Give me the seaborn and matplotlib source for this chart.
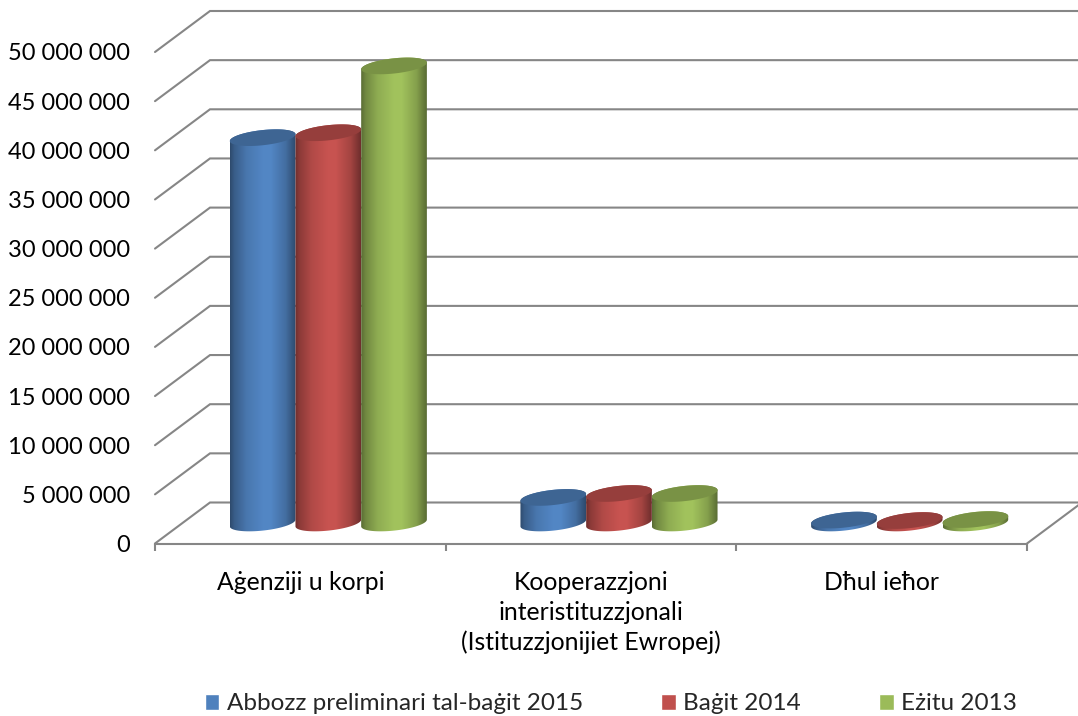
import numpy as np
import pandas as pd
import matplotlib
matplotlib.use("Agg")
import matplotlib.pyplot as plt
from matplotlib.patches import Polygon
from matplotlib.colors import to_rgb
import seaborn as sns

categories = ["Aġenziji u korpi",
              "Kooperazzjoni\ninteristituzzjonali\n(Istituzzjonijiet Ewropej)",
              "Dħul ieħor"]
series_names = ["Abbozz preliminari tal-baġit 2015", "Baġit 2014", "Eżitu 2013"]
draft_2015 = [39200000, 2600000, 300000]
budget_2014 = [39700000, 3000000, 250000]
outturn_2013 = [46500000, 3000000, 350000]
colors = ["#4F81BD", "#C0504D", "#9BBB59"]
y_ticks = list(range(0, 50000001, 5000000))
y_tick_labels = [f"{v:,}".replace(",", " ") for v in y_ticks]

W, H, DPI = 1078, 716, 100
LEFT, RIGHT, BASE, TOP = 155, 1027, 543.5, 52
DEPTH_X, DEPTH_Y = 55, 41          # pixel offset of the back wall
RY_PX, SHEAR_PX = 7.6, 3.4         # cylinder ellipse shape in pixels
GRID = "#868686"
FS = 17
FS_CAT = 17.8
FS_LEG = 17.5

sns.set_theme(style="white")
plt.rcParams["font.family"] = ["Lato", "DejaVu Sans"]

df = pd.DataFrame({
    "category": categories * 3,
    "series": np.repeat(series_names, 3),
    "value": draft_2015 + budget_2014 + outturn_2013,
})

fig = plt.figure(figsize=(W / DPI, H / DPI), dpi=DPI)
ax = fig.add_axes([LEFT / W, 1 - BASE / H, (RIGHT - LEFT) / W, (BASE - TOP) / H])
sns.barplot(data=df, x="category", y="value", hue="series", order=categories,
            hue_order=series_names, palette=colors, saturation=1, width=0.678,
            gap=0, errorbar=None, ax=ax)
sns.move_legend(ax, "center", bbox_to_anchor=(611 / W, 1 - 704 / H),
                bbox_transform=fig.transFigure, ncol=3, frameon=False, title=None,
                fontsize=FS_LEG, handlelength=0.6, handleheight=0.6,
                handletextpad=0.32, columnspacing=3.2, borderpad=0, borderaxespad=0)

xmin, xmax, ymin, ymax = -0.5, 2.5, 0, 50000000
px_x = (xmax - xmin) / (RIGHT - LEFT)
px_y = (ymax - ymin) / (BASE - TOP)
dx, dy = DEPTH_X * px_x, DEPTH_Y * px_y
x_edge = xmin + (W - LEFT) * px_x

# Walls and gridlines
for v in y_ticks:
    ax.plot([xmin, xmin + dx, x_edge], [v, v + dy, v + dy], color=GRID, lw=1.5,
            clip_on=False, zorder=1, solid_joinstyle="miter")
ax.plot([xmax, xmax + dx], [0, dy], color=GRID, lw=1.5, clip_on=False, zorder=1)

def shade(color, f):
    return np.clip(np.array(to_rgb(color)) * f, 0, 1)

u = np.linspace(0, 1, 80)
profile = np.interp(u, [0, 0.06, 0.25, 0.5, 0.62, 0.85, 1],
                    [0.58, 0.72, 0.92, 1.04, 1.04, 0.85, 0.58])
t = np.linspace(0, 2 * np.pi, 121)
ry, k = RY_PX * px_y, SHEAR_PX * px_y

z = 5
for container, color in zip(ax.containers, colors):
    img = np.stack([shade(color, f) for f in profile])[None, :, :]
    for bar in container:
        x0, w, h = bar.get_x(), bar.get_width(), bar.get_height()
        cx = x0 + w / 2 + dx / 2 + 0.5 * px_x
        y0 = dy / 2
        y1 = y0 + h
        ex = cx + w / 2 * np.cos(t)
        ey = ry * np.sin(t) + k * np.cos(t)
        lower = np.linspace(np.pi, 2 * np.pi, 61)
        bx = cx + w / 2 * np.cos(lower)
        by = y0 + ry * np.sin(lower) + k * np.cos(lower)
        tx = bx[::-1]
        ty = y1 - ry * np.sin(lower[::-1]) + k * np.cos(lower[::-1])
        outline = np.column_stack([np.r_[bx, tx], np.r_[by, ty]])
        clip = Polygon(outline, closed=True, transform=ax.transData,
                       facecolor="none", edgecolor="none")
        ax.add_patch(clip)
        im = ax.imshow(img, extent=(cx - w / 2, cx + w / 2, y0 - 2 * ry - k, y1 + 2 * ry + k),
                       aspect="auto", interpolation="bilinear", zorder=z, clip_on=True)
        im.set_clip_path(clip)
        ax.add_patch(Polygon(np.column_stack([ex, y1 + ey]), closed=True,
                             facecolor=shade(color, 0.78), edgecolor="none", zorder=z + 0.5))
        bar.set_visible(False)
        z += 1

ax.set_xlim(xmin, xmax)
ax.set_ylim(ymin, ymax)
ax.set_xlabel("")
ax.set_ylabel("")
ax.set_yticks(y_ticks, y_tick_labels)
ax.set_xticks(range(len(categories)), categories)
ax.set_xticks([-0.5, 0.5, 1.5, 2.5], minor=True)
ax.tick_params(axis="y", length=0, pad=18, labelsize=FS, labelcolor="black")
ax.tick_params(axis="x", which="major", length=0, pad=20, labelsize=FS_CAT, labelcolor="black")
ax.tick_params(axis="x", which="minor", length=5, width=1.5, color=GRID, bottom=True)
for lab in ax.get_xticklabels():
    lab.set_linespacing(1.33)
for s in ["left", "top", "right"]:
    ax.spines[s].set_visible(False)
ax.spines["bottom"].set_color(GRID)
ax.spines["bottom"].set_linewidth(1.5)
ax.patch.set_alpha(0)
fig.savefig("out.png", dpi=DPI, facecolor="white")
